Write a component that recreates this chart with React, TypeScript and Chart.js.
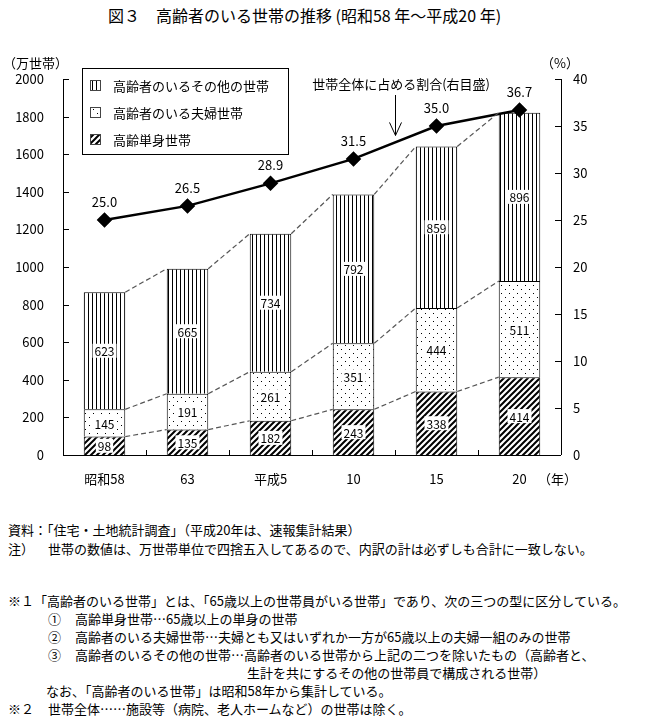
import React, { useEffect, useRef } from 'react';
import { Chart, registerables } from 'chart.js';

Chart.register(...registerables);

const categories = ['昭和58', '63', '平成5', '10', '15', '20'];
const singleHouseholds = [98, 135, 182, 243, 338, 414];
const coupleHouseholds = [145, 191, 261, 351, 444, 511];
const otherHouseholds = [623, 665, 734, 792, 859, 896];
const shareOfAll = [25.0, 26.5, 28.9, 31.5, 35.0, 36.7];
const seriesNames = ['高齢単身世帯', '高齢者のいる夫婦世帯', '高齢者のいるその他の世帯'];
const legendOrder = [2, 1, 0];
const leftAxis = { min: 0, max: 2000, step: 200 };
const rightAxis = { min: 0, max: 40, step: 5 };

const FONT = '"Noto Sans CJK JP", "Noto Sans", sans-serif';

const notes: { x: number; y: number; t: string }[] = [
  { x: 8, y: 530, t: '資料：「住宅・土地統計調査」（平成20年は、速報集計結果）' },
  { x: 8, y: 549, t: '注）' },
  { x: 48, y: 549, t: '世帯の数値は、万世帯単位で四捨五入してあるので、内訳の計は必ずしも合計に一致しない。' },
  { x: 8, y: 601, t: '※１「高齢者のいる世帯」とは、「65歳以上の世帯員がいる世帯」であり、次の三つの型に区分している。' },
  { x: 48, y: 619, t: '①' },
  { x: 75, y: 619, t: '高齢単身世帯…65歳以上の単身の世帯' },
  { x: 48, y: 637, t: '②' },
  { x: 75, y: 637, t: '高齢者のいる夫婦世帯…夫婦とも又はいずれか一方が65歳以上の夫婦一組のみの世帯' },
  { x: 48, y: 655, t: '③' },
  { x: 75, y: 655, t: '高齢者のいるその他の世帯…高齢者のいる世帯から上記の二つを除いたもの（高齢者と、' },
  { x: 247, y: 673, t: '生計を共にするその他の世帯員で構成される世帯）' },
  { x: 46, y: 691, t: 'なお、「高齢者のいる世帯」は昭和58年から集計している。' },
  { x: 8, y: 709, t: '※２' },
  { x: 48, y: 709, t: '世帯全体……施設等（病院、老人ホームなど）の世帯は除く。' },
];

function makePattern(kind: string): CanvasPattern {
  const c = document.createElement('canvas');
  const g = c.getContext('2d') as CanvasRenderingContext2D;
  if (kind === 'vert') {
    c.width = 4; c.height = 4;
    g.fillStyle = '#fff'; g.fillRect(0, 0, 4, 4);
    g.fillStyle = '#000'; g.fillRect(0, 0, 1, 4);
  } else if (kind === 'dots') {
    c.width = 8; c.height = 8;
    g.fillStyle = '#fff'; g.fillRect(0, 0, 8, 8);
    g.fillStyle = '#000';
    g.fillRect(1, 1, 1, 1);
    g.fillRect(5, 5, 1, 1);
  } else {
    c.width = 6; c.height = 6;
    g.fillStyle = '#fff'; g.fillRect(0, 0, 6, 6);
    g.strokeStyle = '#000'; g.lineWidth = 2;
    g.beginPath();
    g.moveTo(-1, 7); g.lineTo(7, -1);
    g.moveTo(-4, 4); g.lineTo(4, -4);
    g.moveTo(2, 10); g.lineTo(10, 2);
    g.stroke();
  }
  return g.createPattern(c, 'repeat') as CanvasPattern;
}

export default function App() {
  const ref = useRef<HTMLCanvasElement | null>(null);

  useEffect(() => {
    if (!ref.current) return;
    const patterns = [makePattern('hatch'), makePattern('dots'), makePattern('vert')];
    const barData = [singleHouseholds, coupleHouseholds, otherHouseholds];

    const decor = {
      id: 'decor',
      afterDatasetsDraw(chart: any) {
        const { ctx, chartArea } = chart;
        const xs = chart.scales.x;
        const ys = chart.scales.y;
        const yr = chart.scales.y1;
        ctx.save();
        // dashed connectors
        ctx.strokeStyle = '#555';
        ctx.lineWidth = 1.2;
        ctx.setLineDash([5, 3]);
        for (let d = 0; d < 3; d++) {
          const meta = chart.getDatasetMeta(d);
          for (let i = 0; i < meta.data.length - 1; i++) {
            const a = meta.data[i];
            const b = meta.data[i + 1];
            ctx.beginPath();
            ctx.moveTo(a.x + a.width / 2, a.y);
            ctx.lineTo(b.x - b.width / 2, b.y);
            ctx.stroke();
          }
        }
        ctx.setLineDash([]);
        // axes
        ctx.strokeStyle = '#000';
        ctx.lineWidth = 1;
        ctx.beginPath();
        ctx.moveTo(chartArea.left + 0.5, chartArea.top);
        ctx.lineTo(chartArea.left + 0.5, chartArea.bottom);
        ctx.moveTo(chartArea.right + 0.5, chartArea.top);
        ctx.lineTo(chartArea.right + 0.5, chartArea.bottom);
        ctx.moveTo(chartArea.left, chartArea.bottom + 0.5);
        ctx.lineTo(chartArea.right, chartArea.bottom + 0.5);
        ys.ticks.forEach((t: any) => {
          const y = Math.round(ys.getPixelForValue(t.value)) + 0.5;
          ctx.moveTo(chartArea.left, y);
          ctx.lineTo(chartArea.left + 6, y);
        });
        yr.ticks.forEach((t: any) => {
          const y = Math.round(yr.getPixelForValue(t.value)) + 0.5;
          ctx.moveTo(chartArea.right, y);
          ctx.lineTo(chartArea.right - 6, y);
        });
        for (let i = 1; i < categories.length; i++) {
          const x = Math.round(xs.getPixelForValue(i - 0.5)) + 0.5;
          ctx.moveTo(x, chartArea.bottom);
          ctx.lineTo(x, chartArea.bottom - 5);
        }
        ctx.stroke();
        // bar value labels
        ctx.font = `12px ${FONT}`;
        ctx.textAlign = 'center';
        ctx.textBaseline = 'middle';
        for (let d = 0; d < 3; d++) {
          const meta = chart.getDatasetMeta(d);
          meta.data.forEach((el: any, i: number) => {
            const txt = String(barData[d][i]);
            const cy = (el.y + el.base) / 2;
            const w = ctx.measureText(txt).width + 4;
            ctx.fillStyle = '#fff';
            ctx.fillRect(el.x - w / 2, cy - 7, w, 14);
            ctx.fillStyle = '#000';
            ctx.fillText(txt, el.x, cy + 1);
          });
        }
        // line labels
        const lmeta = chart.getDatasetMeta(3);
        ctx.font = `13px ${FONT}`;
        lmeta.data.forEach((p: any, i: number) => {
          ctx.fillStyle = '#000';
          ctx.fillText(shareOfAll[i].toFixed(1), p.x, p.y - 18);
        });
        // annotation with arrow
        const ax = Math.round(xs.getPixelForValue(3.5)) + 0.5;
        ctx.font = `13px ${FONT}`;
        ctx.textAlign = 'right';
        ctx.fillText('世帯全体に占める割合(右目盛)', 490, 84);
        const tipY = yr.getPixelForValue((shareOfAll[3] + shareOfAll[4]) / 2) - 7;
        ctx.beginPath();
        ctx.moveTo(ax, 95);
        ctx.lineTo(ax, tipY);
        ctx.moveTo(ax - 6, tipY - 13);
        ctx.lineTo(ax, tipY);
        ctx.lineTo(ax + 6, tipY - 13);
        ctx.stroke();
        // legend
        ctx.lineWidth = 1;
        ctx.strokeRect(82.5, 68.5, 206, 86);
        ctx.textAlign = 'left';
        legendOrder.forEach((d, k) => {
          const cy = 85 + k * 27;
          ctx.fillStyle = patterns[d];
          ctx.fillRect(90, cy - 5, 11, 11);
          ctx.strokeStyle = '#444';
          ctx.strokeRect(90.5, cy - 4.5, 10, 10);
          ctx.fillStyle = '#000';
          ctx.fillText(seriesNames[d], 113, cy + 1);
        });
        ctx.restore();
      },
    };

    const plain = (v: any) => String(v);

    const chart = new Chart(ref.current, {
      type: 'bar',
      data: {
        labels: categories,
        datasets: [
          ...barData.map((arr, d) => ({
            type: 'bar' as const,
            label: seriesNames[d],
            data: arr,
            backgroundColor: patterns[d],
            borderColor: '#000',
            borderWidth: 1,
            barPercentage: 0.5,
            categoryPercentage: 1,
            yAxisID: 'y',
            order: 2,
          })),
          {
            type: 'line' as const,
            label: '世帯全体に占める割合',
            data: shareOfAll,
            borderColor: '#000',
            backgroundColor: '#000',
            borderWidth: 2.5,
            pointStyle: 'rectRot',
            pointRadius: 6,
            pointBackgroundColor: '#000',
            pointBorderColor: '#000',
            yAxisID: 'y1',
            order: 1,
          } as any,
        ],
      },
      options: {
        responsive: false,
        animation: false,
        devicePixelRatio: 1,
        layout: { padding: { top: 79, left: 0, right: 0, bottom: 0 } },
        plugins: { legend: { display: false }, tooltip: { enabled: false }, title: { display: false } },
        scales: {
          x: {
            stacked: true,
            grid: { display: false, drawTicks: false },
            border: { display: false },
            ticks: { color: '#000', font: { family: FONT, size: 13 }, padding: 16 },
            afterFit: (s: any) => { s.height = 45; },
          },
          y: {
            stacked: true,
            position: 'left',
            min: leftAxis.min,
            max: leftAxis.max,
            grid: { display: false, drawTicks: false },
            border: { display: false },
            ticks: { stepSize: leftAxis.step, color: '#000', font: { family: FONT, size: 13 }, padding: 19, callback: plain },
            afterFit: (s: any) => { s.width = 63; },
          },
          y1: {
            position: 'right',
            min: rightAxis.min,
            max: rightAxis.max,
            grid: { display: false, drawTicks: false },
            border: { display: false },
            ticks: { stepSize: rightAxis.step, color: '#000', font: { family: FONT, size: 13 }, padding: 12, callback: plain },
            afterFit: (s: any) => { s.width = 86; },
          },
        },
      } as any,
      plugins: [decor],
    });
    return () => chart.destroy();
  }, []);

  const txt: React.CSSProperties = {
    position: 'absolute',
    whiteSpace: 'nowrap',
    fontFamily: FONT,
    fontSize: 13,
    lineHeight: '18px',
    height: 18,
    color: '#000',
  };

  return (
    <div style={{ position: 'absolute', left: 0, top: 0, width: 647, height: 718, background: '#fff', overflow: 'hidden' }}>
      <div style={{ ...txt, left: 108, top: 5, fontSize: 16, lineHeight: '20px', height: 20 }}>
        図３　高齢者のいる世帯の推移 (昭和58 年～平成20 年)
      </div>
      <canvas ref={ref} width={647} height={500} style={{ position: 'absolute', left: 0, top: 0, width: 647, height: 500 }} />
      <div style={{ ...txt, left: 3, top: 54 }}>（万世帯）</div>
      <div style={{ ...txt, left: 541, top: 54 }}>（%）</div>
      <div style={{ ...txt, left: 538, top: 470 }}>（年）</div>
      {notes.map((n, i) => (
        <div key={i} style={{ ...txt, left: n.x, top: n.y - 9 }}>{n.t}</div>
      ))}
    </div>
  );
}
